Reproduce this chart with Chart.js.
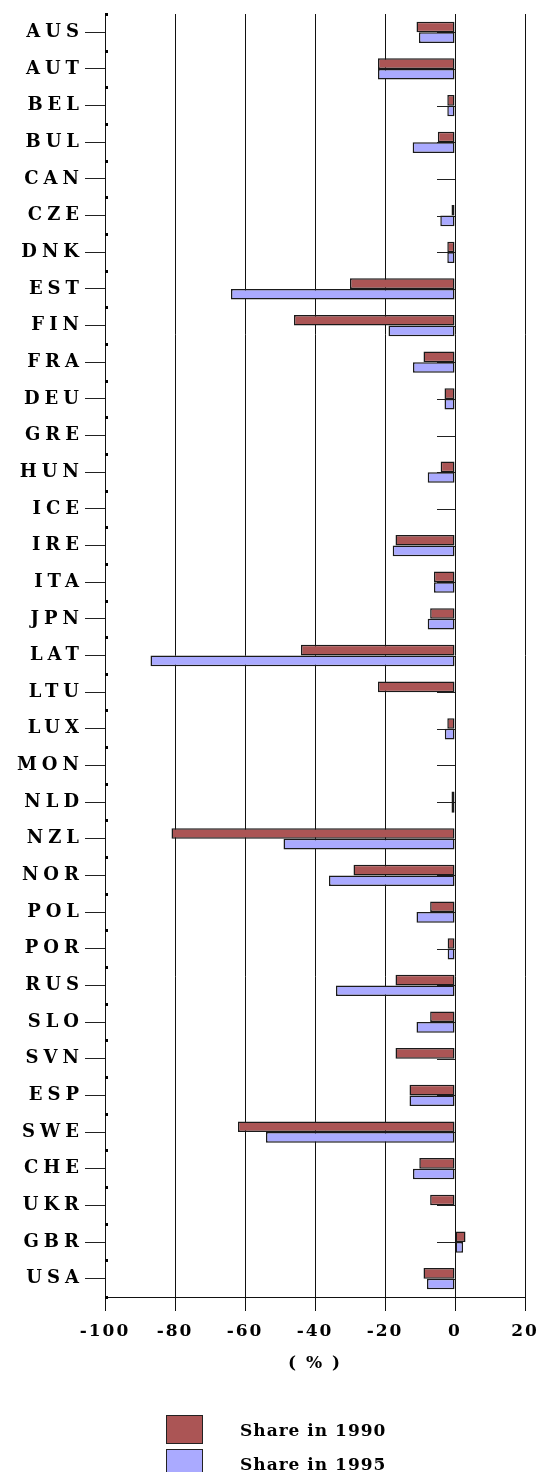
<!DOCTYPE html>
<html>
<head>
<meta charset="utf-8">
<script src="https://cdn.jsdelivr.net/npm/chart.js@4"></script>
<style>
  html, body { margin: 0; padding: 0; background: #fff; }
  #wrap { position: relative; width: 537px; height: 1472px; overflow: hidden; }
  canvas { position: absolute; left: 0; top: 0; }
  .lbox { position: absolute; left: 166px; width: 35px; height: 27px; border: 1.5px solid #222; }
  .ltxt { position: absolute; left: 240px; font: bold 17px "DejaVu Serif", serif; letter-spacing: 1px; color: #000; line-height: 20px; white-space: nowrap; }
</style>
</head>
<body>
<div id="wrap">
  <canvas id="c" width="537" height="1472"></canvas>
  <div id="legend"></div>
</div>
<script>
const categories = ['AUS','AUT','BEL','BUL','CAN','CZE','DNK','EST','FIN','FRA','DEU','GRE','HUN','ICE','IRE','ITA','JPN','LAT','LTU','LUX','MON','NLD','NZL','NOR','POL','POR','RUS','SLO','SVN','ESP','SWE','CHE','UKR','GBR','USA'];
const share1990 = [-11, -22, -2.2, -4.9, null, -1, -2.2, -30, -46, -9, -3, null, -4.1, null, -17, -6, -7.1, -44, -22, -2.2, null, -1, -81, -29, -7.1, -2.1, -17, -7.1, -17, -13, -62, -10.2, -7.1, 3, -9];
const share1995 = [-10.3, -22, -2.2, -12.1, null, -4.2, -2.2, -64, -19, -12, -3, null, -7.8, null, -17.8, -6, -7.8, -87, null, -2.9, null, -1, -49, -36, -11, -2.1, -34, -11, null, -13, -54, -12, null, 2.3, -8];
const seriesNames = ['Share in 1990', 'Share in 1995'];
const seriesColors = ['#AB5555', '#AAAAFF'];
const xTicks = [-100, -80, -60, -40, -20, 0, 20];
const axisTitle = '( % )';

const decorPlugin = {
  id: 'decor',
  beforeDraw(chart) {
    chart.ctx.letterSpacing = '2px';
    const ys = chart.scales.y;
    if (ys && !ys._lsPatched) {
      const orig = ys.drawLabels;
      ys.drawLabels = function (area) {
        const c = this.ctx;
        const prev = c.letterSpacing;
        c.letterSpacing = '5px';
        orig.call(this, area);
        c.letterSpacing = prev;
      };
      ys._lsPatched = true;
    }
  },
  beforeDatasetsDraw(chart) {
    const {ctx, scales: {x, y}} = chart;
    const x0 = x.getPixelForValue(0);
    ctx.save();
    ctx.strokeStyle = '#222';
    ctx.lineWidth = 1;
    categories.forEach((c, i) => {
      const py = Math.round(y.getPixelForValue(i)) + 0.5;
      ctx.beginPath();
      ctx.moveTo(x0 - 18, py);
      ctx.lineTo(x0, py);
      ctx.stroke();
    });
    ctx.restore();
  },
  afterDraw(chart) {
    const {ctx, scales: {x, y}} = chart;
    const xl = x.getPixelForValue(xTicks[0]);
    ctx.save();
    ctx.fillStyle = '#000';
    for (let i = 0; i <= categories.length; i++) {
      const py = Math.round(y.getPixelForValue(i - 0.5));
      ctx.fillRect(xl, py - 1, 3, 3);
    }
    ctx.restore();
  }
};

new Chart(document.getElementById('c'), {
  type: 'bar',
  data: {
    labels: categories,
    datasets: [
      { label: seriesNames[0], data: share1990, backgroundColor: seriesColors[0] },
      { label: seriesNames[1], data: share1995, backgroundColor: seriesColors[1] }
    ]
  },
  options: {
    indexAxis: 'y',
    responsive: false,
    animation: false,
    devicePixelRatio: 1,
    layout: { padding: { top: 14, right: 0, bottom: 85, left: 0 } },
    datasets: {
      bar: {
        categoryPercentage: 0.58,
        barPercentage: 1.0,
        borderColor: '#1a1a1a',
        borderWidth: 1.5,
        borderSkipped: false
      }
    },
    plugins: {
      legend: { display: false },
      tooltip: { enabled: false }
    },
    scales: {
      x: {
        min: xTicks[0],
        max: xTicks[xTicks.length - 1],
        afterFit(s) { s.height = 90; s.paddingRight = 12; s.paddingLeft = 0; },
        afterBuildTicks(s) { s.ticks = xTicks.map(v => ({ value: v })); },
        grid: { color: '#111', lineWidth: 1, tickLength: 14, drawTicks: true },
        border: { display: true, color: '#111', width: 1 },
        ticks: {
          color: '#000',
          padding: 10,
          font: { family: 'DejaVu Serif', weight: 'bold', size: 17 }
        },
        title: {
          display: true,
          text: axisTitle,
          color: '#000',
          padding: { top: 0, bottom: 13 },
          font: { family: 'DejaVu Serif', weight: 'bold', size: 17 }
        }
      },
      y: {
        afterFit(s) { s.width = 105; },
        grid: { offset: false, drawOnChartArea: false, color: '#222', tickLength: 20 },
        border: { display: true, color: '#111', width: 1 },
        ticks: {
          color: '#000',
          padding: 1,
          autoSkip: false,
          font: { family: 'DejaVu Serif', weight: 'bold', size: 18 }
        }
      }
    }
  },
  plugins: [decorPlugin]
});

// HTML legend built from the series arrays
const leg = document.getElementById('legend');
const boxTops = [1415, 1449];
seriesNames.forEach((name, i) => {
  const b = document.createElement('div');
  b.className = 'lbox';
  b.style.top = boxTops[i] + 'px';
  b.style.background = seriesColors[i];
  leg.appendChild(b);
  const t = document.createElement('div');
  t.className = 'ltxt';
  t.style.top = (boxTops[i] + 5) + 'px';
  t.textContent = name;
  leg.appendChild(t);
});
</script>
</body>
</html>
